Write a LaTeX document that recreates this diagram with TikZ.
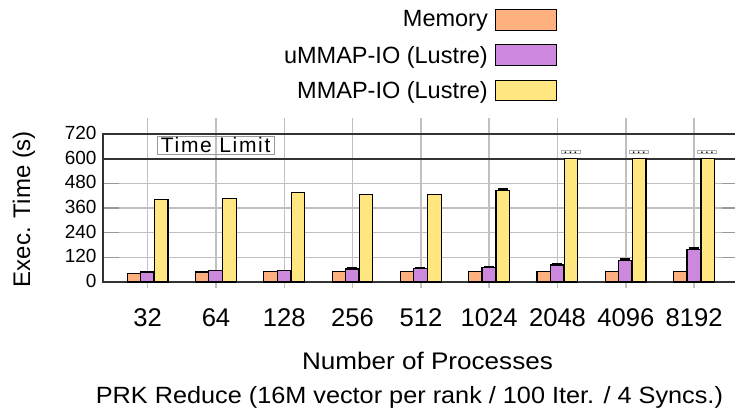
\documentclass[tikz,border=0pt]{standalone}
\usepackage{fontspec}
\setmainfont{Liberation Sans}
\usepackage{xcolor}
\definecolor{PRKmem}{HTML}{FFB07F}
\definecolor{PRKummap}{HTML}{CC88DD}
\definecolor{PRKmmap}{HTML}{FFE680}
\definecolor{PRKgrid}{HTML}{C0C0C0}
\definecolor{PRKtick}{HTML}{999999}
\definecolor{PRKaxis}{HTML}{333333}
\usepackage{tikz}
\usetikzlibrary{positioning}

\begin{document}
\begin{tikzpicture}[
  x=1pt, y=-1pt,
  bar/.style={draw=black, line width=1.2pt},
  errcap/.style={draw=black, line width=2pt},
  gridline/.style={draw=PRKgrid, line width=1.5pt},
  tickline/.style={draw=PRKtick, line width=1.5pt},
  axisline/.style={draw=PRKaxis, line width=1.5pt},
  limitline/.style={draw=PRKaxis, line width=2.2pt},
  ylab/.style={font=\fontsize{19}{19}\selectfont, anchor=east, inner sep=0pt},
  xlab/.style={font=\fontsize{25.6}{25.6}\selectfont, anchor=base, inner sep=0pt},
  title/.style={font=\fontsize{24}{24}\selectfont, anchor=base, inner sep=0pt},
  legbox/.style={draw=black, line width=1pt, minimum width=61.7pt, minimum height=20.7pt, inner sep=0pt},
  legtext/.style={font=\fontsize{23.5}{23.5}\selectfont, anchor=base east, inner sep=0pt},
  capped/.style={draw=PRKtick!80, line width=0.6pt, inner xsep=3pt, inner ysep=0.4pt,
    text height=2.4pt, text depth=0pt, font=\fontsize{10}{10}\selectfont\bfseries},
]
\useasboundingbox (0,0) rectangle (735,408);

% Grid
\foreach \v in {120,240,360,480}
  \draw[gridline] (103,{282-\v*0.205556}) -- (735,{282-\v*0.205556});
\foreach \i in {0,...,8}
  \draw[gridline] ({147.7+68.3*\i},118) -- ({147.7+68.3*\i},288);
\foreach \v in {120,240,360,480} {
  \draw[tickline] (103,{282-\v*0.205556}) -- (119,{282-\v*0.205556});
  \draw[tickline] (722,{282-\v*0.205556}) -- (735,{282-\v*0.205556});
}

% Frame and time limit
\draw[axisline] (735,134) -- (103,134) -- (103,282) -- (735,282);
\draw[limitline] (103,158.7) -- (735,158.7);
\node[draw=PRKtick, line width=0.8pt, inner xsep=1.5pt, inner ysep=1.2pt,
  minimum width=116.7pt, text height=14.5pt, text depth=0.8pt,
  font=\fontsize{21}{21}\selectfont\addfontfeatures{LetterSpace=8}] (limit) at (215.7,145.5) {Time Limit};

% Bars: label / memory / uMMAP / MMAP
\foreach \lbl/\mem/\umm/\mm [count=\i from 0] in
  {32/42/49/402, 64/49/57/407, 128/50/57/434, 256/52/63/427, 512/53/65/427,
   1024/53/70/446, 2048/53/83/600, 4096/53/105/600, 8192/53/160/600} {
  \pgfmathsetmacro{\gx}{147.7+68.3*\i}
  \draw[bar, fill=PRKmem] (\gx-20.5,282) rectangle (\gx-7.2,{282-\mem*0.205556});
  \draw[bar, fill=PRKummap] (\gx-7.2,282) rectangle (\gx+6.2,{282-\umm*0.205556});
  \draw[bar, fill=PRKmmap] (\gx+6.8,282) rectangle (\gx+20.2,{282-\mm*0.205556});
  \node[xlab] (x\lbl) at (\gx,326.7) {\lbl};
}

% Error caps
\foreach \i/\v in {3/63, 4/65, 5/70, 6/83, 7/105, 8/160}
  \draw[errcap] ({147.7+68.3*\i-5.5},{281-\v*0.205556}) -- ({147.7+68.3*\i+4.5},{281-\v*0.205556});
\draw[errcap] ({147.7+68.3*5+8.5},{281-446*0.205556}) -- ({147.7+68.3*5+18.5},{281-446*0.205556});

% Clipped bars
\foreach \i in {6,7,8}
  \node[capped] (dots\i) at ({147.7+68.3*\i+13},152) {.\hspace{2.2pt}.\hspace{2.2pt}.};

% Y axis labels
\foreach \v in {0,120,240,360,480,600,720}
  \node[ylab] (y\v) at (96.7,{281-\v*0.205556}) {\v};

% Axis titles
\node[title, rotate=90] (ytitle) at (30,209) {Exec. Time (s)};
\node[title] (xtitle) at (427.5,369) {\scalebox{1.087}[1]{Number of Processes}};
\node[title, font=\fontsize{23.5}{23.5}\selectfont] (caption) at (409.4,403.3)
  {\scalebox{1.075}[1]{PRK Reduce (16M vector per rank / 100 Iter. / 4 Syncs.)}};

% Legend
\node[legbox, fill=PRKmem] (legmem) at (525.85,19.65) {};
\node[legbox, fill=PRKummap] (legummap) at (525.85,55.15) {};
\node[legbox, fill=PRKmmap] (legmmap) at (525.85,90.5) {};
\node[legtext] (txtmem) at (488,26.7) {Memory};
\node[legtext] (txtummap) at (488,63) {uMMAP-IO (Lustre)};
\node[legtext] (txtmmap) at (488,98.3) {MMAP-IO (Lustre)};

\end{tikzpicture}
\end{document}
